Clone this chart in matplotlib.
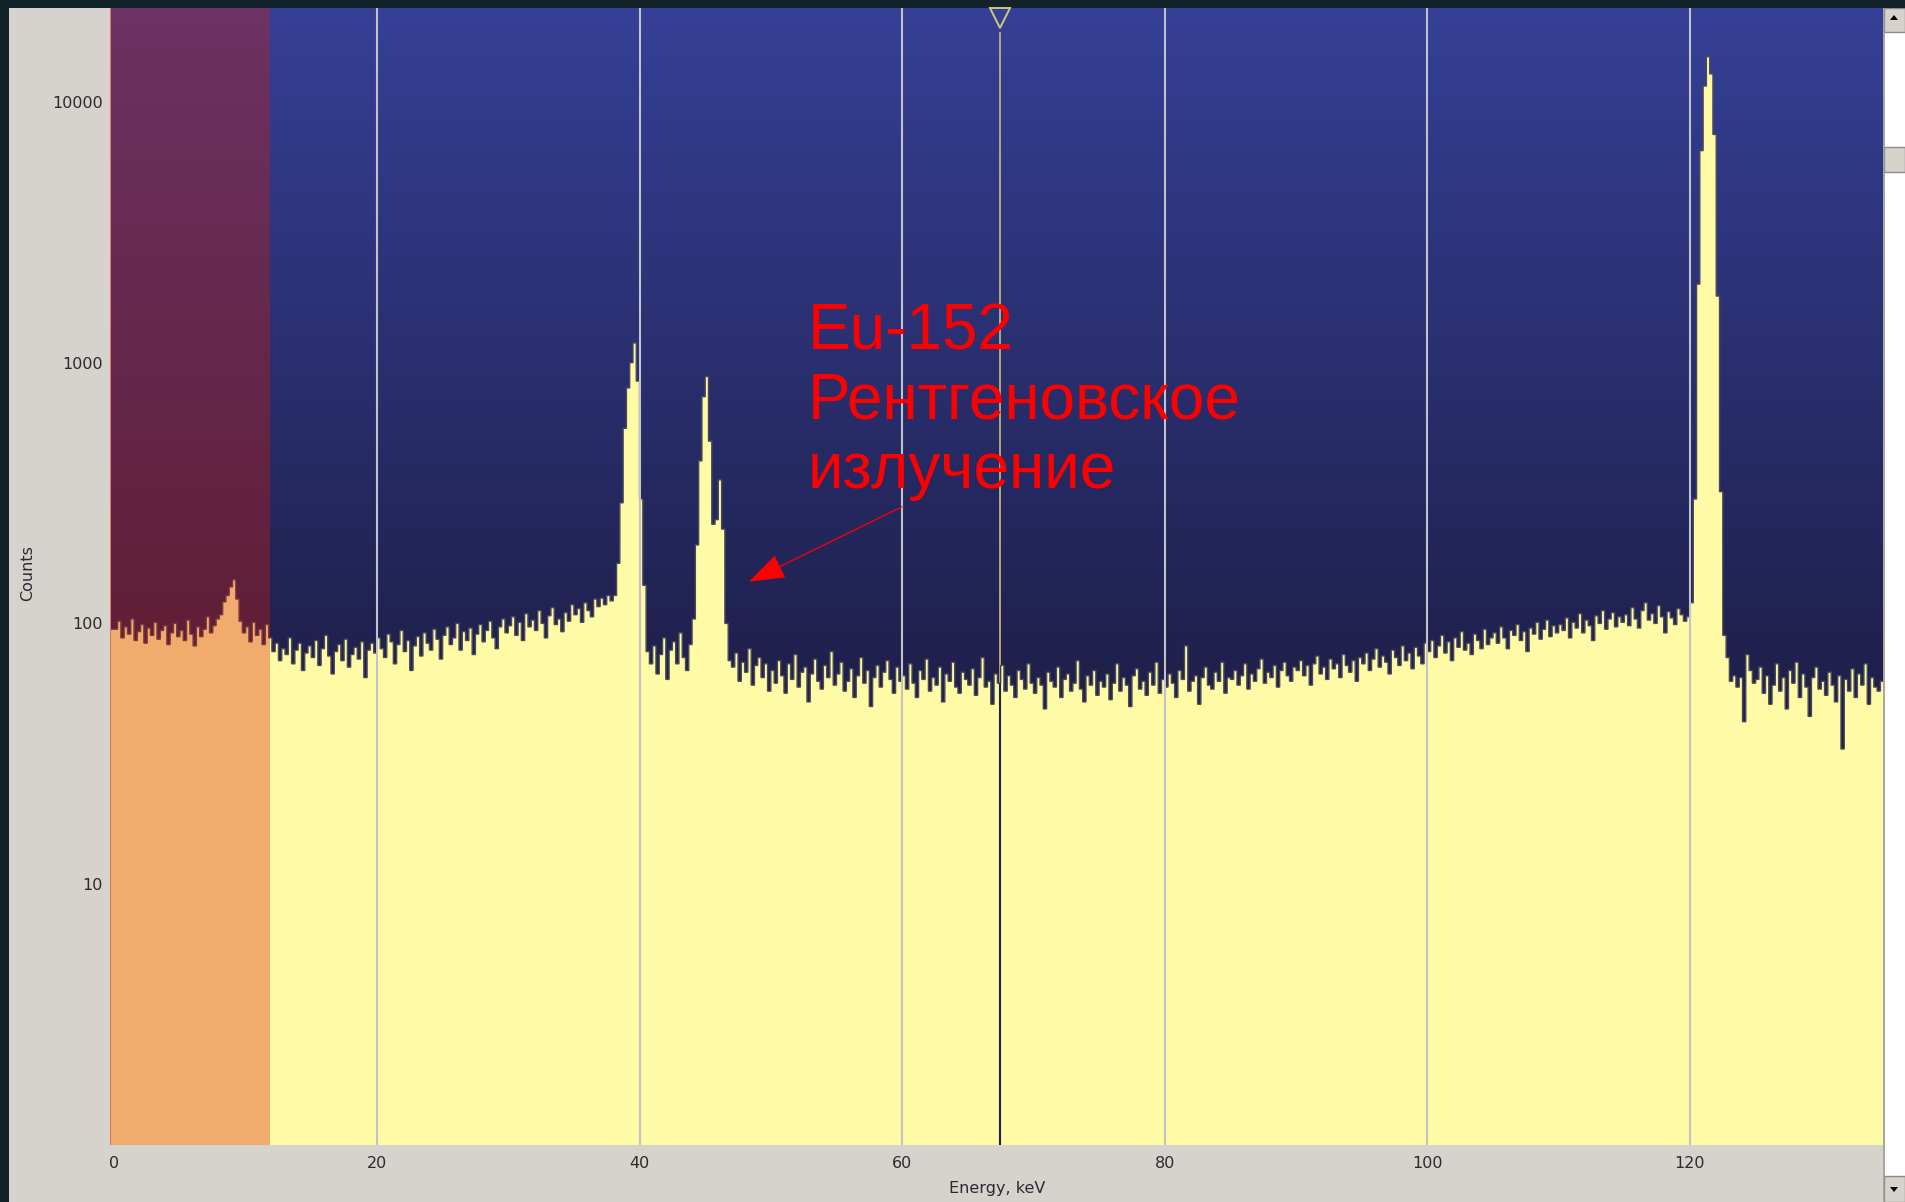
import numpy as np
import matplotlib.pyplot as plt
from matplotlib.patches import Rectangle, Polygon
from matplotlib.colors import LinearSegmentedColormap
from matplotlib.ticker import NullLocator

bin_width = 0.25  # keV per bin
counts = [
    95, 102, 88, 97, 91, 104, 86, 93, 99, 84, 96, 90, 101, 87, 94, 98, 83, 92, 100, 89,
    94, 86, 103, 91, 82, 97, 89, 95, 106, 92, 98, 104, 108, 121, 128, 138, 147, 124, 102, 92,
    97, 85, 101, 90, 95, 83, 99, 88, 78, 84, 72, 80, 76, 88, 70, 79, 84, 66, 77, 82,
    74, 86, 69, 80, 90, 75, 64, 78, 83, 72, 87, 68, 76, 81, 73, 85, 62, 79, 84, 77,
    88, 80, 74, 91, 85, 70, 83, 94, 78, 86, 66, 82, 89, 75, 92, 84, 79, 95, 87, 73,
    90, 97, 83, 88, 100, 79, 93, 86, 96, 76, 91, 99, 85, 94, 102, 88, 80, 97, 104, 92,
    98, 106, 90, 101, 86, 109, 97, 103, 94, 112, 100, 88, 107, 115, 99, 104, 93, 110, 102, 118,
    108, 114, 101, 120, 112, 106, 124, 116, 125, 118, 128, 122, 128, 170, 290, 560, 800, 1000, 1190, 850,
    300, 140, 78, 70, 82, 64, 76, 88, 61, 79, 85, 70, 92, 74, 66, 83, 104, 200, 420, 740,
    885, 500, 240, 250, 355, 230, 100, 72, 68, 77, 60, 71, 65, 80, 58, 69, 74, 62, 70, 55,
    66, 59, 72, 63, 54, 70, 61, 76, 57, 65, 68, 50, 64, 73, 60, 56, 69, 62, 78, 58,
    64, 71, 55, 60, 67, 52, 63, 74, 59, 66, 48, 62, 69, 57, 65, 72, 61, 54, 68, 60,
    63, 56, 70, 59, 52, 66, 61, 73, 55, 62, 58, 68, 50, 64, 60, 71, 57, 54, 65, 61,
    58, 67, 53, 62, 74, 57, 60, 49, 64, 59, 69, 55, 63, 58, 52, 66, 61, 56, 70, 59,
    54, 62, 58, 47, 65, 60, 57, 68, 52, 61, 64, 55, 59, 72, 56, 50, 63, 58, 66, 53,
    60, 57, 64, 51, 59, 70, 55, 62, 58, 48, 63, 67, 56, 60, 53, 65, 58, 71, 54, 61,
    57, 64, 59, 52, 66, 61, 82, 55, 60, 63, 49, 62, 68, 58, 56, 65, 60, 71, 54, 62,
    61, 66, 58, 63, 70, 56, 64, 60, 67, 73, 59, 65, 62, 69, 57, 66, 71, 63, 60, 68,
    66, 72, 63, 69, 58, 70, 75, 64, 68, 61, 73, 67, 70, 62, 76, 69, 65, 72, 60, 74,
    70, 77, 66, 73, 80, 68, 75, 71, 64, 79, 74, 69, 82, 72, 77, 67, 81, 75, 70, 84,
    78, 86, 74, 82, 90, 77, 85, 72, 88, 81, 93, 79, 84, 76, 91, 86, 80, 95, 83, 88,
    92, 84, 97, 88, 80, 94, 90, 99, 86, 93, 78, 96, 91, 101, 87, 95, 103, 89, 98, 92,
    99, 94, 105, 88, 101, 96, 109, 92, 103, 98, 86, 107, 100, 112, 95, 104, 110, 97, 106, 101,
    108, 98, 115, 104, 96, 112, 120, 103, 109, 100, 117, 106, 92, 111, 105, 99, 114, 108, 102, 106,
    120, 300, 2000, 6500, 11500, 14900, 12800, 7500, 1800, 320, 90, 74, 60, 63, 57, 62, 42, 76, 66, 59,
    61, 68, 54, 63, 49, 58, 70, 55, 62, 47, 66, 59, 71, 52, 64, 57, 44, 62, 68, 56,
    60, 53, 65, 58, 50, 63, 33, 61, 55, 67, 52, 64, 58, 70, 49, 62, 57, 55, 60, 58,
]
grid_kev = [20, 40, 60, 80, 100, 120]
xtick_vals = [0, 20, 40, 60, 80, 100, 120]
ytick_vals = [10, 100, 1000, 10000]
ytick_labels = ['10', '100', '1000', '10000']
x_left, x_right = -0.33, 134.7
roi_end = 11.85       # keV, end of the marked region
marker_kev = 67.45    # cursor position
note = 'Eu-152\nРентгеновское\nизлучение'

counts = np.array(counts, dtype=float)
edges = np.arange(len(counts) + 1) * bin_width
edges[0] = x_left  # first channel runs to the left edge

W, H = 1905, 1202
fig = plt.figure(figsize=(W / 100, H / 100), dpi=100, facecolor='#d6d2cc')
pos = [110 / W, 57 / H, 1773 / W, 1137 / H]

# gradient background behind the plot
bg = fig.add_axes(pos, zorder=0)
cmap = LinearSegmentedColormap.from_list('bg', [(0.0, '#120e23'), (0.435, '#20214e'), (1.0, '#354096')])
bg.imshow(np.linspace(0, 1, 256).reshape(-1, 1), cmap=cmap, origin='lower', aspect='auto',
          extent=[0, 1, 0, 1])
bg.set_xlim(0, 1)
bg.set_ylim(0, 1)
bg.axis('off')

ax = fig.add_axes(pos, zorder=1)
ax.set_facecolor('none')
ax.set_yscale('log')

ax.axvline(marker_kev, ymax=0.978, color='#b9b37c', lw=1.3, zorder=1.5)
fill = ax.stairs(counts, edges, baseline=0.1, fill=True, color='#fffaa5', zorder=2)
ax.stairs(counts, edges, baseline=None, color='#4b4b58', lw=1.0, zorder=2.5)
dark = ax.axvline(marker_kev, color='#1e2256', lw=1.5, zorder=5)
dark.set_clip_path(fill)

for g in grid_kev:
    ax.axvline(g, color='#c2c2ca', lw=1.5, zorder=3)

ax.axvspan(x_left, roi_end, facecolor=(216 / 255, 24 / 255, 7 / 255, 0.35), edgecolor='none', zorder=4)
ax.axvline(x_left, color=(0.88, 0.45, 0.42), lw=1.5, zorder=4)

ax.plot([marker_kev], [0.991], transform=ax.get_xaxis_transform(), marker='v', ms=15,
        mfc='none', mec='#cfc878', mew=1.4, clip_on=False, zorder=6)

ax.set_xlim(x_left, x_right)
ax.set_ylim(1, 22900)
ax.set_xticks(xtick_vals)
ax.set_xticklabels([str(v) for v in xtick_vals])
ax.set_yticks(ytick_vals)
ax.set_yticklabels(ytick_labels)
ax.yaxis.set_minor_locator(NullLocator())
ax.tick_params(length=0, labelsize=11.5, labelcolor='#2a2a30')
ax.tick_params(axis='y', pad=5)
ax.tick_params(axis='x', pad=8)
for s in ax.spines.values():
    s.set_visible(False)

fig.text(997 / W, 1 - 1188 / H, 'Energy, keV', ha='center', va='center', fontsize=11.5, color='#2a2a30')
fig.text(28 / W, 1 - 573 / H, 'Counts', ha='center', va='center', rotation=90, fontsize=11.5,
         color='#2a2a30')

fig.text(808 / W, 1 - 488 / H, note, color='#ff0000', fontsize=46, family='Liberation Sans',
         ha='left', va='baseline', zorder=10)
ax.annotate('', xy=(48.33, 144.5), xytext=(59.98, 280),
            arrowprops=dict(arrowstyle='-|>,head_length=2.3,head_width=0.8', color='#ff0000',
                            lw=0.9, shrinkA=0, shrinkB=0, mutation_scale=10), zorder=10)

# scrollbar on the right
sb = fig.add_axes([1883 / W, 0, 22 / W, 1194 / H])
sb.set_xlim(0, 22)
sb.set_ylim(1202, 8)
sb.axis('off')
sb.add_patch(Rectangle((0, 8), 22, 1194, fc='white', ec='none'))
sb.plot([0.5, 0.5], [8, 1202], color='#9a9690', lw=1.2)
for y0, h in [(8, 24), (147, 25), (1176, 26)]:
    sb.add_patch(Rectangle((1, y0), 21, h, fc='#d6d2cc', ec='#8e8a86', lw=1))
sb.add_patch(Polygon([(7, 20), (15, 20), (11, 15)], fc='black'))
sb.add_patch(Polygon([(7, 1187), (15, 1187), (11, 1192)], fc='black'))

# dark window border
fig.add_artist(Rectangle((0, 0), 9 / W, 1, transform=fig.transFigure, fc='#13232a', ec='none'))
fig.add_artist(Rectangle((0, 1 - 8 / H), 1, 8 / H, transform=fig.transFigure, fc='#13232a', ec='none'))

fig.savefig('out.png', dpi=100, facecolor=fig.get_facecolor())
